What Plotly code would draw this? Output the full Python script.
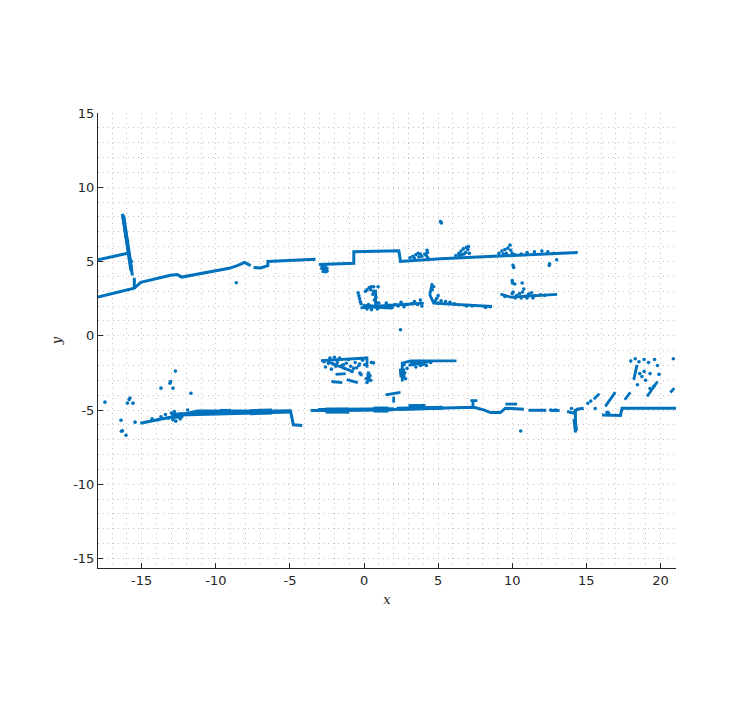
#!/usr/bin/env python3
# -*- coding: utf-8 -*-
"""Mapa de puntos láser: paredes, objetos y puntos sueltos"""

import plotly.graph_objects as go

BLUE = '#0072BD'
GRID = '#c0c0c0'
TEXT = '#262626'

# Trazos continuos (None separa tramos)
wall_x = [-17.95, -15.86, None,
          -16.3, -15.86, -15.63, None,
          -15.5, -15.5, None,
          -17.95, -15.5, -15.07, -13.05, -12.6, -12.3, -9.1, -8.55, -8.06, -7.65, None,
          -7.45, -6.98, -6.49, -6.49, -3.27, None,
          -3.05, -0.69, -0.69, 2.35, 2.46, 5.16, 14.42, None,
          -15.1, -12.82, -11.25, -4.96, -4.77, -4.17, None,
          -3.6, 1.11, 7.4, 8.08, 8.53, 9.2, 9.54, 10.78, None,
          11.1, 12.3, None, 12.6, 13.2, None, 13.7, 14.15, 14.38, 14.82, None,
          14.26, 14.26, None,
          16.06, 17.3, 17.41, 21.1]
wall_y = [5.12, 5.57, None,
          8.22, 5.57, 4.05, None,
          3.9, 3.2, None,
          2.61, 3.2, 3.6, 4.07, 4.12, 3.95, 4.54, 4.72, 4.94, 4.72, None,
          4.6, 4.56, 4.72, 5.0, 5.15, None,
          4.79, 4.88, 5.66, 5.73, 5.0, 5.19, 5.6, None,
          -5.89, -5.44, -5.06, -5.06, -6.0, -6.05, None,
          -5.04, -4.99, -4.81, -4.99, -5.17, -5.17, -4.88, -4.95, None,
          -5.02, -5.02, None, -5.03, -5.03, None, -5.1, -5.21, -4.95, -4.88, None,
          -4.92, -6.52, None,
          -5.33, -5.37, -4.88, -4.88]

object_x = [-0.24, 1.33, 4.03, None,
            0.78, 0.78, None,
            4.6, 4.44, 4.7, 8.64, None,
            9.2, 9.88, 13.03, None,
            -2.9, -1.5, 0.2, None,
            -2.48, -0.8, None,
            -1.92, -1.24, None, -2.2, -1.47, None, -1.17, -0.42, None,
            0.3, 0.3, None, 0.2, 0.2, None,
            2.58, 2.58, 3.14, 6.24, None,
            3.0, 4.4, None,
            1.45, 2.46, None, 2.0, 2.0, None,
            7.18, 7.65, None, 7.35, 7.35, None, 9.54, 10.33, None,
            15.5, 15.88, None, 16.28, 16.96, None, 17.59, 17.97, None, 19.1, 19.8, None,
            20.67, 20.94, None, 18.42, 18.2, None]
object_y = [1.87, 2.02, 2.2, None,
            1.98, 3.1, None,
            3.55, 2.76, 2.2, 1.97, None,
            2.81, 2.6, 2.78, None,
            -1.68, -1.6, -1.5, None,
            -1.73, -2.4, None,
            -2.6, -2.55, None, -3.08, -3.15, None, -2.95, -3.15, None,
            -2.4, -3.1, None, -1.4, -2.15, None,
            -3.08, -1.84, -1.69, -1.69, None,
            -2.0, -1.75, None,
            -3.98, -3.82, None, -4.1, -4.5, None,
            -4.37, -4.37, None, -4.37, -4.8, None, -4.6, -4.6, None,
            -4.27, -3.91, None, -4.76, -3.8, None, -4.31, -3.82, None, -4.09, -3.08, None,
            -3.82, -3.53, None, -1.96, -2.97, None]

# Puntos sueltos
scatter_x = [-8.62, 5.16, 5.22, 10.1, 10.05, 12.5, 12.52, 13.0, 10.0, 10.02, 10.17, 10.67, 10.06, 10.78, 2.46,
             -17.48, -16.4, -16.37, -16.3, -16.06, -15.45, -15.97, -15.85, -15.79, -15.59, -13.7, -13.05, -13.1, -12.89, -12.73, -11.68,
             10.57, 18.0, 18.3, 18.55, 18.9, 19.2, 19.6, 20.87, 19.0, 19.3, 19.8, 19.9,
             18.6, 18.75, 18.9, 18.45, 14.0, 15.1, 15.3, 16.4, 16.5, 15.6, 12.6, 12.9, 19.3, 19.55]
scatter_y = [3.57, 7.69, 7.6, 4.6, 4.75, 4.74, 4.85, 5.12, 3.71, 3.55, 3.48, 3.55, 2.95, 3.15, 0.4,
             -4.47, -5.69, -6.43, -6.4, -6.7, -5.82, -4.54, -4.3, -4.2, -4.54, -3.53, -3.08, -3.2, -3.53, -2.38, -3.87,
             -6.41, -1.7, -1.55, -1.75, -1.6, -1.8, -1.6, -1.55, -3.0, -2.55, -2.0, -2.6,
             -2.55, -2.75, -2.4, -3.3, -4.9, -4.55, -4.4, -5.15, -5.2, -4.9, -5.0, -5.0, -3.55, -3.4]

# Ruido de la pared superior
top_noise_x = [3.1, 3.3, 3.5, 3.65, 3.4, 3.7, 3.9, 4.1, 4.25, 4.2, 4.3, 3.8, 4.28,
               6.2, 6.4, 6.55, 6.7, 6.9, 7.05, 6.6, 6.85, 7.0, 6.45, 6.75, 7.1,
               9.1, 9.3, 9.5, 9.7, 9.85, 9.6, 9.9, 10.0, 9.4, 10.2, 10.6, 11.0, 11.5, 12.0, 12.4, 12.8,
               -16.2, -16.1, -15.95, -15.7, -2.7, -2.5, -2.8, -2.6]
top_noise_y = [5.25, 5.35, 5.45, 5.55, 5.2, 5.3, 5.35, 5.5, 5.75, 5.4, 5.25, 5.5, 5.6,
               5.4, 5.55, 5.7, 5.85, 5.95, 6.0, 5.45, 5.6, 5.8, 5.4, 5.5, 5.55,
               5.55, 5.7, 5.8, 5.9, 6.1, 5.55, 5.75, 5.55, 5.5, 5.45, 5.5, 5.6, 5.65, 5.7, 5.65, 5.55,
               7.6, 7.0, 6.4, 5.0, 4.45, 4.35, 4.6, 4.75]

# Ruido de los objetos centrales (y = 2 a 3.5)
mid_noise_x = [1.5, 1.7, 1.9, 2.1, 2.3, 2.5, 2.7, 2.9, 3.2, 3.4, 3.6, 3.8, 3.9, 0.2, 0.5, 0.9, 1.0, 0.3,
               0.2, 0.35, 0.5, 0.65, 0.45, 0.65, 0.6, 0.8, 0.7, 0.85, 0.95, 0.1,
               -0.4, -0.35, -0.3, -0.25, -0.2,
               4.7, 4.6, 5.0, 4.9, 5.2, 5.5, 5.8, 6.1, 4.8, 5.0, 6.9, 7.3, 8.2, 8.5,
               10.0, 10.3, 10.5, 10.7, 10.9, 11.1, 11.3, 11.5, 11.9, 12.2, 10.2, 10.6, 11.0, 11.4, 9.5]
mid_noise_y = [2.2, 2.05, 1.9, 2.1, 2.0, 2.25, 1.95, 2.1, 2.15, 2.3, 2.1, 2.4, 2.0, 1.8, 1.75, 1.8, 2.2, 2.1,
               3.1, 3.25, 3.3, 3.3, 3.1, 3.0, 2.8, 2.6, 2.4, 2.2, 3.3, 3.0,
               2.9, 2.7, 2.5, 2.3, 2.15,
               3.3, 3.1, 2.7, 2.5, 2.35, 2.3, 2.25, 2.15, 2.35, 2.2, 2.0, 2.0, 1.9, 1.95,
               2.85, 2.7, 2.85, 2.95, 2.65, 2.8, 2.9, 2.7, 2.75, 2.72, 2.55, 2.55, 2.55, 2.55, 2.65]

# Ruido de la nube baja (y = -1.5 a -3.2) y del arranque de la pared inferior
low_noise_x = [-2.7, -2.4, -2.1, -1.8, -1.5, -1.2, -0.9, -0.6, -0.3, -2.6, -2.2, -1.9, -1.3, -0.8, -0.5,
               -2.3, -2.0, -1.65, -1.4, -1.05, -0.7, -0.1, 0.05,
               -0.35, -0.28, -0.2, 0.64, 0.5, 0.4, 0.45, 0.15, 0.2,
               2.65, 2.75, 2.9, 2.7, 3.3, 3.6, 3.9, 4.2, 4.5, 3.5, 3.8, 4.0, 2.8,
               -13.7, -13.4, -13.2, -13.0, -12.7, -12.4, -12.2, -12.8, -12.9, -13.9, -14.3, -12.5, -11.9, -11.6]
low_noise_y = [-1.75, -1.85, -1.9, -1.8, -2.0, -1.85, -2.05, -1.8, -1.9, -2.1, -2.25, -2.05, -2.2, -2.4, -2.15,
               -1.5, -1.45, -1.5, -1.95, -1.6, -2.2, -1.65, -1.95,
               -2.0, -2.52, -2.62, -1.83, -1.8, -2.7, -3.0, -2.9, -3.15,
               -2.8, -2.5, -2.2, -1.95, -1.95, -1.85, -1.95, -2.0, -1.8, -2.1, -2.0, -1.9, -2.9,
               -5.45, -5.3, -5.55, -5.2, -5.75, -5.6, -5.3, -5.1, -5.65, -5.65, -5.6, -5.35, -5.0, -5.25]

# Zonas gruesas de las paredes
thick_x = [-12.5, -4.96, None, -3.1, 2.0, None, 2.2, 5.3, None, -2.95, -2.4, None, -0.1, 1.9, None, 3.1, 3.8,
           None, -16.25, -15.7, None, 14.2, 14.3, None, 0.3, 0.3]
thick_y = [-5.3, -5.1, None, -5.0, -4.95, None, -4.92, -4.85, None, 4.6, 4.5, None, 2.0, 1.9, None, -1.78, -1.75,
           None, 8.1, 4.4, None, -5.6, -6.4, None, -2.5, -3.0]

blob_x = [-9.7, -9.0, None, -7.7, -6.2, None, -2.6, -1.0, None, 0.64, 1.65, None, 3.0, 4.15, None,
          2.55, 2.6, None, -13.0, -12.2, None, -2.85, -2.5]
blob_y = [-5.13, -5.13, None, -5.15, -5.1, None, -5.04, -5.04, None, -4.97, -4.97, None, -4.8, -4.8, None,
          -2.2, -2.8, None, -5.4, -5.35, None, 4.45, 4.4]

ticks_x = [-15, -10, -5, 0, 5, 10, 15, 20]
ticks_y = [-15, -10, -5, 0, 5, 10, 15]

fig = go.Figure()
fig.add_trace(go.Scatter(x=blob_x, y=blob_y, mode='lines', line=dict(color=BLUE, width=6)))
fig.add_trace(go.Scatter(x=thick_x, y=thick_y, mode='lines', line=dict(color=BLUE, width=4)))
fig.add_trace(go.Scatter(x=wall_x, y=wall_y, mode='lines', line=dict(color=BLUE, width=3)))
fig.add_trace(go.Scatter(x=object_x, y=object_y, mode='lines', line=dict(color=BLUE, width=2.8)))
noise_x = scatter_x + top_noise_x + mid_noise_x + low_noise_x
noise_y = scatter_y + top_noise_y + mid_noise_y + low_noise_y
fig.add_trace(go.Scatter(x=noise_x, y=noise_y, mode='markers', marker=dict(color=BLUE, size=3.6)))

axis_style = dict(
    showline=True, linecolor=TEXT, linewidth=1,
    ticks='inside', ticklen=5, tickwidth=1, tickcolor=TEXT,
    tickfont=dict(family='DejaVu Sans', size=13, color=TEXT),
    zeroline=False, showgrid=True, gridcolor=GRID, griddash='1px,4px', gridwidth=1,
    minor=dict(dtick=1, showgrid=True, gridcolor=GRID, griddash='1px,4px', gridwidth=1),
)

fig.update_xaxes(range=[-17.95, 21.05], tickvals=ticks_x, ticktext=[str(v) for v in ticks_x],
                 title=dict(text='<i>x</i>', font=dict(family='DejaVu Serif', size=13, color=TEXT), standoff=8),
                 **axis_style)
fig.update_yaxes(range=[-15.64, 15.0], tickvals=ticks_y, ticktext=[str(v) for v in ticks_y],
                 title=dict(text='<i>y</i>', font=dict(family='DejaVu Serif', size=13, color=TEXT), standoff=8),
                 **axis_style)

fig.update_layout(
    width=748, height=704, showlegend=False,
    paper_bgcolor='white', plot_bgcolor='white',
    margin=dict(l=90, r=79.5, t=105, b=144, autoexpand=False),
)

fig.write_html('out.html')
